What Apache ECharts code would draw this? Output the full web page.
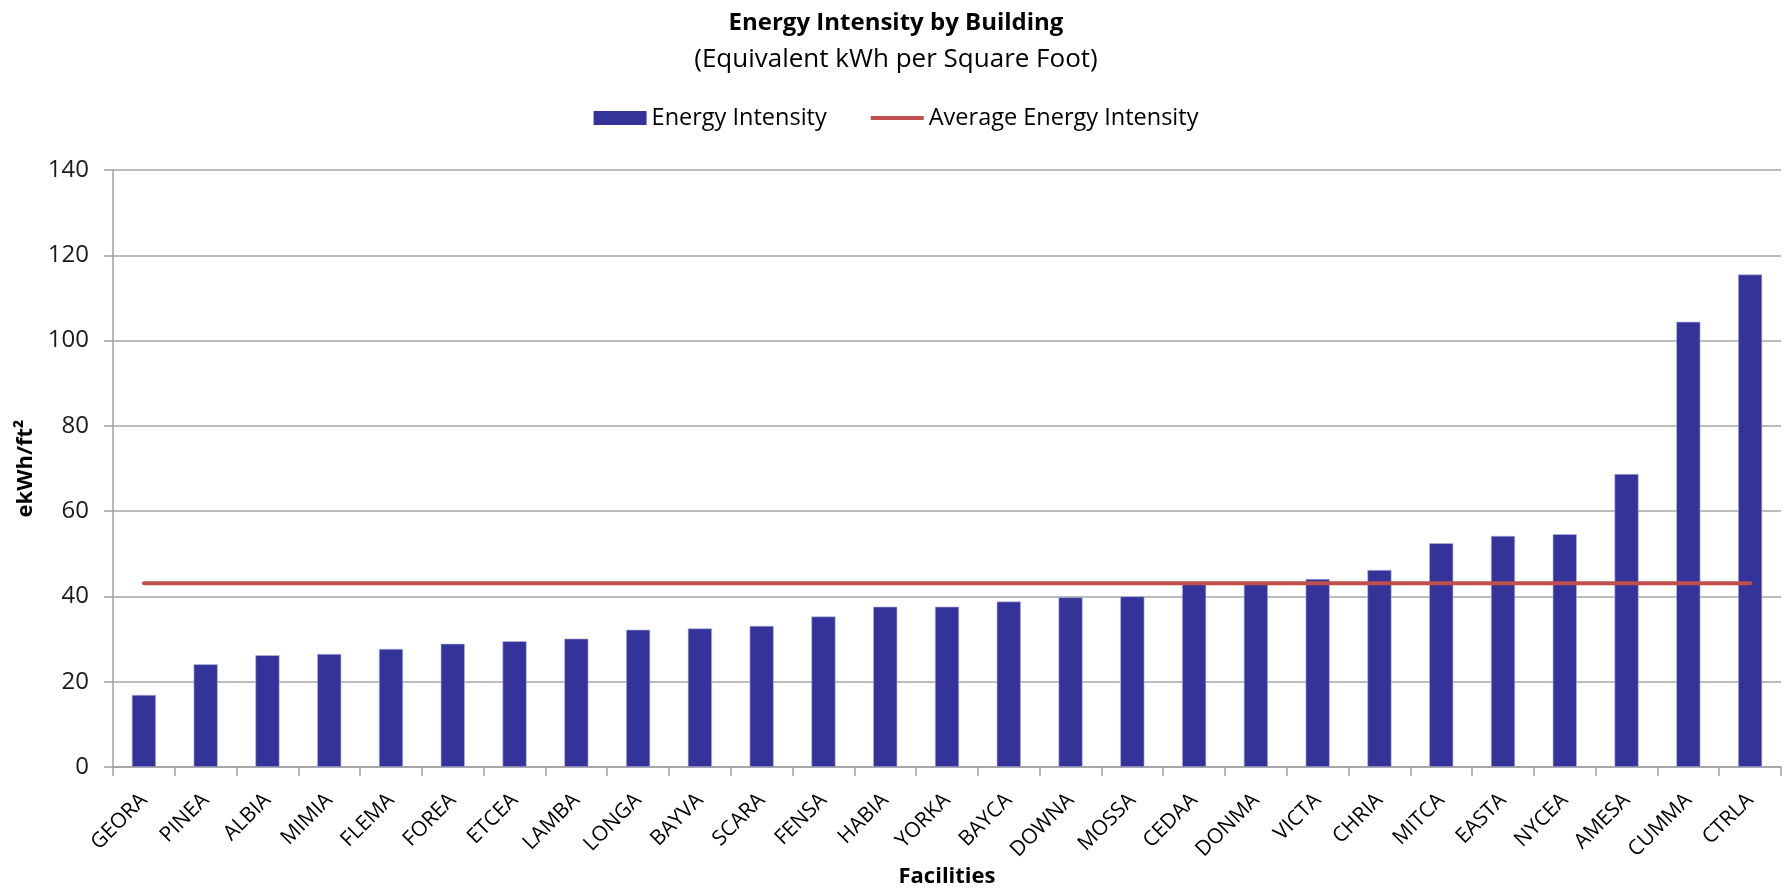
<!DOCTYPE html>
<html>
<head>
<meta charset="utf-8">
<script src="https://cdn.jsdelivr.net/npm/echarts@6/dist/echarts.min.js"></script>
<style>
html,body{margin:0;padding:0;background:#fff;}
#chart{width:1792px;height:890px;}
</style>
</head>
<body>
<div id="chart"></div>
<script>
const categories = ['GEORA','PINEA','ALBIA','MIMIA','FLEMA','FOREA','ETCEA','LAMBA','LONGA','BAYVA','SCARA','FENSA','HABIA','YORKA','BAYCA','DOWNA','MOSSA','CEDAA','DONMA','VICTA','CHRIA','MITCA','EASTA','NYCEA','AMESA','CUMMA','CTRLA'];
const energyIntensity = [16.9,24.1,26.2,26.5,27.7,28.9,29.5,30.1,32.2,32.5,33.1,35.3,37.6,37.6,38.8,39.8,40.0,43.2,43.3,44.1,46.2,52.5,54.2,54.6,68.7,104.4,115.5];
const averageEnergyIntensity = [43.1,43.1,43.1,43.1,43.1,43.1,43.1,43.1,43.1,43.1,43.1,43.1,43.1,43.1,43.1,43.1,43.1,43.1,43.1,43.1,43.1,43.1,43.1,43.1,43.1,43.1,43.1];
const yTicks = [0,20,40,60,80,100,120,140];

const font = "'Open Sans',sans-serif";
const chart = echarts.init(document.getElementById('chart'), null, {renderer:'canvas'});
chart.setOption({
  animation:false,
  backgroundColor:'#ffffff',
  title:{
    text:'Energy Intensity by Building',
    subtext:'(Equivalent kWh per Square Foot)',
    left:'center', top:6, itemGap:12,
    textStyle:{fontFamily:font,fontSize:24,fontWeight:'bold',color:'#000'},
    subtextStyle:{fontFamily:font,fontSize:26,color:'#000'}
  },
  legend:{
    top:101, left:'center', itemWidth:53, itemHeight:14, itemGap:44,
    textStyle:{fontFamily:font,fontSize:23.5,color:'#000'},
    data:[
      {name:'Energy Intensity',icon:'rect',itemStyle:{borderWidth:0}},
      {name:'Average Energy Intensity',icon:'path://M0,0 M53,14 M0,5 L53,5 L53,9 L0,9 Z'}
    ]
  },
  grid:{left:113,right:11,top:170,bottom:123,containLabel:false,outerBoundsMode:'none'},
  xAxis:{
    type:'category', data:categories, boundaryGap:true,
    name:'Facilities', nameLocation:'middle', nameGap:99, nameMoveOverlap:false,
    nameTextStyle:{fontFamily:font,fontSize:22,fontWeight:'bold',color:'#000'},
    axisLine:{lineStyle:{color:'#a0a0a0',width:1.5}},
    axisTick:{show:true,length:9,lineStyle:{color:'#a0a0a0',width:1.5}},
    axisLabel:{rotate:45,fontFamily:font,fontSize:21,color:'#000',margin:30,interval:0}
  },
  yAxis:{
    type:'value', min:0, max:140, interval:20,
    name:'ekWh/ft²', nameLocation:'middle', nameGap:76, nameRotate:90, nameMoveOverlap:false,
    nameTextStyle:{fontFamily:font,fontSize:22,fontWeight:'bold',color:'#000'},
    axisLine:{show:true,lineStyle:{color:'#a0a0a0',width:1.5}},
    axisTick:{show:true,length:9,lineStyle:{color:'#a0a0a0',width:1.5}},
    splitLine:{lineStyle:{color:'#a6a6a6',width:1.5}},
    axisLabel:{fontFamily:font,fontSize:24,color:'#1a1a1a',margin:24,
      formatter:function(v){return yTicks.indexOf(v)>=0?String(v):'';}}
  },
  series:[
    {name:'Energy Intensity',type:'bar',data:energyIntensity,barWidth:'39%',
      itemStyle:{color:'#333399',borderColor:'#b8b8e0',borderWidth:0.6}},
    {name:'Average Energy Intensity',type:'line',data:averageEnergyIntensity,
      symbol:'none',lineStyle:{color:'#c0504d',width:4,cap:'round'},itemStyle:{color:'#c0504d'}}
  ]
});
</script>
</body>
</html>
